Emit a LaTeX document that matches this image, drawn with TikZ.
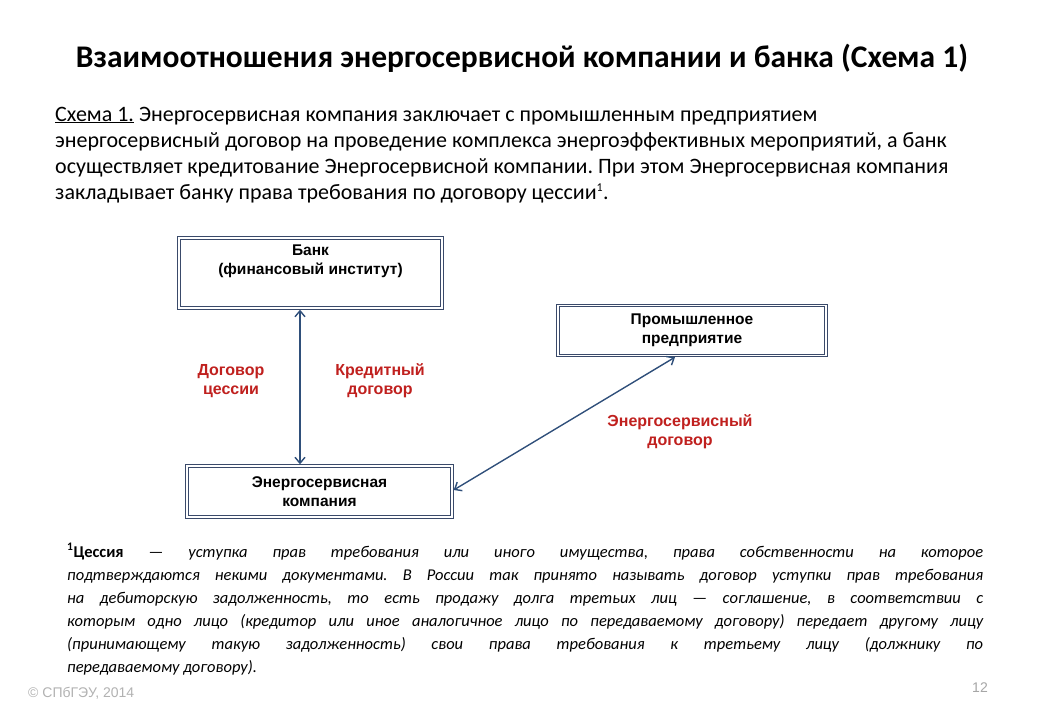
\documentclass[tikz,border=0pt]{standalone}
\usepackage{fontspec}
\setmainfont{Carlito}
\newfontfamily\arialf{Liberation Sans}
\usetikzlibrary{arrows.meta}
\definecolor{redt}{HTML}{C0201E}
\definecolor{arr}{HTML}{2F4F7A}
\definecolor{boxc}{HTML}{3A4A6A}
\tikzset{
 boxn/.style={inner sep=0pt,font=\arialf\bfseries\fontsize{15.5}{19}\selectfont,align=center},
 frame/.style={draw=boxc,line width=0.7pt},
 lab/.style={text=redt,font=\arialf\bfseries\fontsize{16}{19}\selectfont,align=center},
 con/.style={arr,line width=1.4pt,{Straight Barb[length=6pt,width=10pt]}-{Straight Barb[length=6pt,width=10pt]}},
 para/.style={anchor=base west,font=\fontsize{22}{26}\selectfont,inner sep=0pt},
 fn/.style={anchor=base west,font=\itshape\fontsize{16.5}{19}\selectfont,inner sep=0pt}
}
\newcommand{\dframe}[1]{%
 \draw[frame] (#1.north west) rectangle (#1.south east);
 \draw[frame] ([shift={(-2.5,-2.5)}]#1.north west) rectangle ([shift={(2.5,2.5)}]#1.south east);}
\frenchspacing
\begin{document}
\begin{tikzpicture}[x=1pt,y=-1pt]
\useasboundingbox[fill=white] (0,0) rectangle (1040,720);
\node[font=\bfseries\fontsize{31.5}{34}\selectfont] (title) at (522,58) {Взаимоотношения энергосервисной компании и банка (Схема 1)};
\node[para] (p1) at (55,121) {\underline{Схема 1.} Энергосервисная компания заключает с промышленным предприятием};
\node[para] (p2) at (55,147) {энергосервисный договор на проведение комплекса энергоэффективных мероприятий, а банк};
\node[para] (p3) at (55,173) {осуществляет кредитование Энергосервисной компании. При этом Энергосервисная компания};
\node[para] (p4) at (55,199) {закладывает банку права требования по договору цессии\textsuperscript{\fontsize{12}{12}\selectfont 1}.};

\node[minimum width=260pt,minimum height=67pt,inner sep=0pt] (bank) at (310.5,273) {};
\node[boxn,anchor=north] (banktxt) at (310.5,245) {Банк\\(финансовый институт)};
\node[boxn,minimum width=265pt,minimum height=47pt] (prom) at (692,330.5) {Промышленное\\предприятие};
\node[boxn,minimum width=262pt,minimum height=48pt] (esco) at (319.5,491.5) {Энергосервисная\\компания};
\dframe{bank}\dframe{prom}\dframe{esco}

\node[lab] (l1) at (231,381) {Договор\\цессии};
\node[lab] (l2) at (380,381) {Кредитный\\договор};
\node[lab] (l3) at (680,432) {Энергосервисный\\договор};

\coordinate (x1) at (300,0);
\coordinate (y1) at (0,490);
\coordinate (x2) at (675,0);
\draw[con] ([yshift=-3pt]bank.south -| x1) -- ([yshift=3pt]esco.north -| x1);
\draw[con] ([xshift=3pt]esco.east |- y1) -- ([yshift=-3pt]prom.south -| x2);

\node[fn] (f1) at (67,557) {\makebox[916pt][s]{\textbf{\upshape\textsuperscript{1}Цессия} — уступка прав требования или иного имущества, права собственности на которое}};
\node[fn] (f2) at (67,580) {\makebox[916pt][s]{подтверждаются некими документами. В России так принято называть договор уступки прав требования}};
\node[fn] (f3) at (67,603) {\makebox[916pt][s]{на дебиторскую задолженность, то есть продажу долга третьих лиц — соглашение, в соответствии с}};
\node[fn] (f4) at (67,626) {\makebox[916pt][s]{которым одно лицо (кредитор или иное аналогичное лицо по передаваемому договору) передает другому лицу}};
\node[fn] (f5) at (67,649) {\makebox[916pt][s]{(принимающему такую задолженность) свои права требования к третьему лицу (должнику по}};
\node[fn] (f6) at (67,672) {передаваемому договору).};

\node[anchor=base west,text=gray!60,font=\arialf\fontsize{14}{16}\selectfont,inner sep=0pt] (copy) at (28,697) {© СПбГЭУ, 2014};
\node[anchor=base,text=gray!70,font=\arialf\fontsize{14}{16}\selectfont,inner sep=0pt] (pg) at (980,692) {12};
\end{tikzpicture}
\end{document}
